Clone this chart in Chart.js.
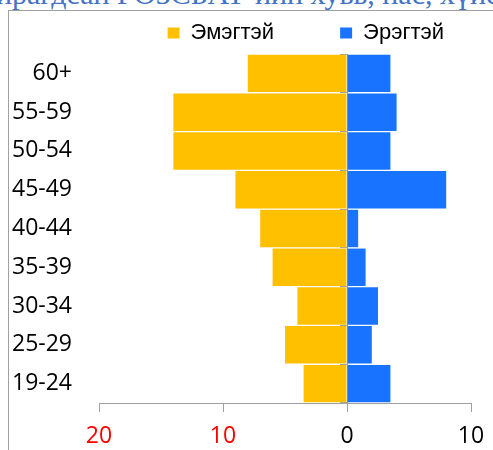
<!DOCTYPE html>
<html>
<head>
<meta charset="utf-8">
<script src="https://cdn.jsdelivr.net/npm/chart.js@4"></script>
<style>
  html, body { margin: 0; padding: 0; background: #fff; overflow: hidden; width: 493px; height: 450px; }
  #title { position: absolute; left: -4px; top: -21px; font-family: "Liberation Serif", serif; font-size: 30px; line-height: 1; color: #4472C4; white-space: nowrap; }
  #frame { position: absolute; left: 8px; top: 10px; width: 600px; height: 500px; border-left: 1px solid #a0a0a0; border-top: 1px solid #a0a0a0; }
  #wrap { position: absolute; left: 0; top: -44px; width: 510px; height: 494px; }
</style>
</head>
<body>
<div id="title">ирагдсан РОЗСБАТ-ийн хувь, нас, хүйсээр</div>
<div id="frame"></div>
<div id="wrap"><canvas id="c" width="510" height="494"></canvas></div>
<script>
const categories = ['60+', '55-59', '50-54', '45-49', '40-44', '35-39', '30-34', '25-29', '19-24'];
const seriesNames = ['Эмэгтэй', 'Эрэгтэй'];
const female = [-8, -14, -14, -9, -7, -6, -4, -5, -3.5];
const male = [3.5, 4, 3.5, 8, 0.9, 1.5, 2.5, 2, 3.5];
const xTickValues = [-20, -10, 0, 10];

const tickFont = { family: '"Open Sans", sans-serif', size: 23 };
const gridGray = '#a0a0a0';

new Chart(document.getElementById('c'), {
  type: 'bar',
  data: {
    labels: categories,
    datasets: [
      { label: seriesNames[0], data: female, backgroundColor: '#FFC000', borderWidth: 0, barPercentage: 1, categoryPercentage: 0.965, yAxisID: 'y' },
      { label: seriesNames[1], data: male, backgroundColor: '#1874FF', borderWidth: 0, barPercentage: 1, categoryPercentage: 0.965, yAxisID: 'y' }
    ]
  },
  options: {
    indexAxis: 'y',
    responsive: false,
    devicePixelRatio: 1,
    animation: false,
    layout: { padding: 0 },
    plugins: {
      legend: {
        position: 'top',
        align: 'end',
        labels: {
          boxWidth: 12,
          boxHeight: 11,
          padding: 66,
          color: '#000',
          font: { family: '"Liberation Sans", Arial, sans-serif', size: 22 }
        }
      },
      tooltip: { enabled: false }
    },
    scales: {
      x: {
        type: 'linear',
        min: xTickValues[0],
        max: xTickValues[xTickValues.length - 1],
        stacked: true,
        afterBuildTicks: (s) => { s.ticks = xTickValues.map(v => ({ value: v })); },
        afterFit: (s) => { s.height = 47; },
        ticks: {
          padding: 11,
          font: tickFont,
          callback: (v) => Math.abs(v),
          color: (c) => (c.tick && c.tick.value < 0) ? '#FF0000' : '#000000'
        },
        grid: { drawOnChartArea: false, drawTicks: true, tickLength: 9, color: gridGray },
        border: { display: true, color: gridGray, width: 1 }
      },
      y: {
        type: 'category',
        position: 'left',
        stacked: true,
        afterFit: (s) => { s.width = 99; },
        ticks: { padding: 27, font: tickFont, color: '#000' },
        grid: { display: false, drawTicks: false },
        border: { display: false }
      },
      y0: {
        type: 'category',
        axis: 'y',
        position: { x: 0 },
        offset: true,
        ticks: { display: false },
        grid: { offset: true, drawOnChartArea: false, drawTicks: true, tickLength: 7, color: gridGray },
        border: { display: true, color: gridGray, width: 1 }
      },
      yr: {
        type: 'category',
        axis: 'y',
        position: 'right',
        afterFit: (s) => { s.width = 39; },
        ticks: { display: false },
        grid: { display: false, drawTicks: false },
        border: { display: false }
      }
    }
  }
});
</script>
</body>
</html>
